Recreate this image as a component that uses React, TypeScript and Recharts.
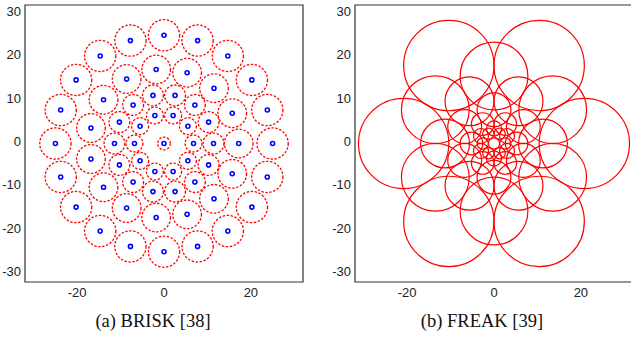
import React from 'react';
import { ScatterChart, Scatter, XAxis, YAxis, ReferenceArea } from 'recharts';

type P = { x: number; y: number };

// axes
const xTicks = [-20, 0, 20];
const yTicks = [-30, -20, -10, 0, 10, 20, 30];
const axisMin = -32;
const axisMax = 32;

// ---------- BRISK sampling pattern ----------
const briskCenter: P[] = [{ x: 0, y: 0 }];
const briskRing1: P[] = [
  { x: 6.8, y: 0 }, { x: 5.5, y: 4.0 }, { x: 2.1, y: 6.47 }, { x: -2.1, y: 6.47 }, { x: -5.5, y: 4.0 },
  { x: -6.8, y: 0 }, { x: -5.5, y: -4.0 }, { x: -2.1, y: -6.47 }, { x: 2.1, y: -6.47 }, { x: 5.5, y: -4.0 },
];
const briskRing2: P[] = [
  { x: 11.4, y: 0 }, { x: 10.27, y: 4.95 }, { x: 7.11, y: 8.91 }, { x: 2.54, y: 11.11 }, { x: -2.54, y: 11.11 },
  { x: -7.11, y: 8.91 }, { x: -10.27, y: 4.95 }, { x: -11.4, y: 0 }, { x: -10.27, y: -4.95 }, { x: -7.11, y: -8.91 },
  { x: -2.54, y: -11.11 }, { x: 2.54, y: -11.11 }, { x: 7.11, y: -8.91 }, { x: 10.27, y: -4.95 },
];
const briskRing3: P[] = [
  { x: 17.2, y: 0 }, { x: 15.71, y: 7.0 }, { x: 11.51, y: 12.78 }, { x: 5.32, y: 16.36 }, { x: -1.8, y: 17.11 },
  { x: -8.6, y: 14.9 }, { x: -13.92, y: 10.11 }, { x: -16.82, y: 3.58 }, { x: -16.82, y: -3.58 }, { x: -13.92, y: -10.11 },
  { x: -8.6, y: -14.9 }, { x: -1.8, y: -17.11 }, { x: 5.32, y: -16.36 }, { x: 11.51, y: -12.78 }, { x: 15.71, y: -7.0 },
];
const briskRing4: P[] = [
  { x: 25, y: 0 }, { x: 23.78, y: 7.73 }, { x: 20.23, y: 14.69 }, { x: 14.69, y: 20.23 }, { x: 7.73, y: 23.78 },
  { x: 0, y: 25 }, { x: -7.73, y: 23.78 }, { x: -14.69, y: 20.23 }, { x: -20.23, y: 14.69 }, { x: -23.78, y: 7.73 },
  { x: -25, y: 0 }, { x: -23.78, y: -7.73 }, { x: -20.23, y: -14.69 }, { x: -14.69, y: -20.23 }, { x: -7.73, y: -23.78 },
  { x: 0, y: -25 }, { x: 7.73, y: -23.78 }, { x: 14.69, y: -20.23 }, { x: 20.23, y: -14.69 }, { x: 23.78, y: -7.73 },
];
const briskRings = [briskCenter, briskRing1, briskRing2, briskRing3, briskRing4];
const briskSigma = [1.45, 1.95, 2.4, 3.3, 3.6];

// ---------- FREAK sampling pattern ----------
const freakRing0: P[] = [
  { x: 20.8, y: 0 }, { x: 10.4, y: 18.01 }, { x: -10.4, y: 18.01 }, { x: -20.8, y: 0 }, { x: -10.4, y: -18.01 }, { x: 10.4, y: -18.01 },
];
const freakRing1: P[] = [
  { x: 13.51, y: 7.8 }, { x: 0, y: 15.6 }, { x: -13.51, y: 7.8 }, { x: -13.51, y: -7.8 }, { x: 0, y: -15.6 }, { x: 13.51, y: -7.8 },
];
const freakRing2: P[] = [
  { x: 11.27, y: 0 }, { x: 5.64, y: 9.76 }, { x: -5.64, y: 9.76 }, { x: -11.27, y: 0 }, { x: -5.64, y: -9.76 }, { x: 5.64, y: -9.76 },
];
const freakRing3: P[] = [
  { x: 6.75, y: 3.9 }, { x: 0, y: 7.8 }, { x: -6.75, y: 3.9 }, { x: -6.75, y: -3.9 }, { x: 0, y: -7.8 }, { x: 6.75, y: -3.9 },
];
const freakRing4: P[] = [
  { x: 5.2, y: 0 }, { x: 2.6, y: 4.5 }, { x: -2.6, y: 4.5 }, { x: -5.2, y: 0 }, { x: -2.6, y: -4.5 }, { x: 2.6, y: -4.5 },
];
const freakRing5: P[] = [
  { x: 3.0, y: 1.73 }, { x: 0, y: 3.47 }, { x: -3.0, y: 1.73 }, { x: -3.0, y: -1.73 }, { x: 0, y: -3.47 }, { x: 3.0, y: -1.73 },
];
const freakRing6: P[] = [
  { x: 2.6, y: 0 }, { x: 1.3, y: 2.25 }, { x: -1.3, y: 2.25 }, { x: -2.6, y: 0 }, { x: -1.3, y: -2.25 }, { x: 1.3, y: -2.25 },
];
const freakCenter: P[] = [{ x: 0, y: 0 }];
const freakRings = [freakRing0, freakRing1, freakRing2, freakRing3, freakRing4, freakRing5, freakRing6, freakCenter];
const freakSigma = [10.4, 7.8, 5.63, 3.9, 2.6, 1.73, 1.3, 1.3];

const captions = ['(a) BRISK [38]', '(b) FREAK [39]'];

const briskData = briskRings.flatMap((ring, i) => ring.map((p) => ({ ...p, s: briskSigma[i] })));
const freakData = freakRings.flatMap((ring, i) => ring.map((p) => ({ ...p, s: freakSigma[i] })));

// layout
const CW = 320;
const CH = 300;
const MARGIN = { top: 5, right: 17, bottom: 0, left: 0 };
const YW = 25;
const XH = 18;
const PLOT_W = CW - MARGIN.left - MARGIN.right - YW;
const PX = PLOT_W / (axisMax - axisMin);

const SANS = '"Liberation Sans", Arial, Helvetica, sans-serif';
const SERIF = '"Liberation Serif", "Times New Roman", Times, serif';

const XTick = (props: any) => {
  const { x, y, payload } = props;
  return (
    <text x={x} y={y + 15} textAnchor="middle" fontFamily={SANS} fontSize={13} fill="#222">
      {payload.value}
    </text>
  );
};

const YTick = (props: any) => {
  const { x, y, payload } = props;
  return (
    <text x={x - 4} y={y + 2.5} textAnchor="end" fontFamily={SANS} fontSize={13} fill="#222">
      {payload.value}
    </text>
  );
};

const BriskShape = (props: any) => {
  const { cx, cy, payload } = props;
  if (cx == null || cy == null) return null;
  return (
    <g>
      <circle cx={cx} cy={cy} r={payload.s * PX} fill="none" stroke="#ff0000" strokeWidth={1.3} strokeDasharray="2.4 1.6" />
      <circle cx={cx} cy={cy} r={2} fill="none" stroke="#0000ff" strokeWidth={1.6} />
    </g>
  );
};

const FreakShape = (props: any) => {
  const { cx, cy, payload } = props;
  if (cx == null || cy == null) return null;
  return <circle cx={cx} cy={cy} r={payload.s * PX} fill="none" stroke="#ff0000" strokeWidth={1.2} />;
};

const Panel = ({ data, shape }: { data: any[]; shape: any }) => (
  <ScatterChart width={CW} height={CH} margin={MARGIN}>
    <XAxis
      type="number"
      dataKey="x"
      domain={[axisMin, axisMax]}
      ticks={xTicks}
      interval={0}
      axisLine={false}
      tickLine={false}
      tickSize={0}
      tickMargin={0}
      height={XH}
      tick={<XTick />}
      allowDataOverflow
    />
    <YAxis
      type="number"
      dataKey="y"
      domain={[axisMin, axisMax]}
      ticks={yTicks}
      interval={0}
      axisLine={false}
      tickLine={false}
      tickSize={0}
      tickMargin={0}
      width={YW}
      tick={<YTick />}
      allowDataOverflow
    />
    <ReferenceArea x1={axisMin} x2={axisMax} y1={axisMin} y2={axisMax} fill="none" fillOpacity={0} stroke="#333" strokeWidth={1.2} />
    <Scatter data={data} shape={shape} isAnimationActive={false} />
  </ScatterChart>
);

export default function App() {
  return (
    <div style={{ position: 'fixed', left: 0, top: 0, width: 631, height: 338, overflow: 'hidden', background: '#fff' }}>
      <div style={{ position: 'absolute', left: 0, top: 0 }}>
        <Panel data={briskData} shape={BriskShape} />
      </div>
      <div style={{ position: 'absolute', left: 330, top: 0 }}>
        <Panel data={freakData} shape={FreakShape} />
      </div>
      <svg style={{ position: 'absolute', left: 0, top: 0 }} width={631} height={338}>
        <text x={153} y={327} textAnchor="middle" fontFamily={SERIF} fontSize={18.5} fill="#111">
          {captions[0]}
        </text>
        <text x={482} y={327} textAnchor="middle" fontFamily={SERIF} fontSize={18.5} fill="#111">
          {captions[1]}
        </text>
      </svg>
    </div>
  );
}
